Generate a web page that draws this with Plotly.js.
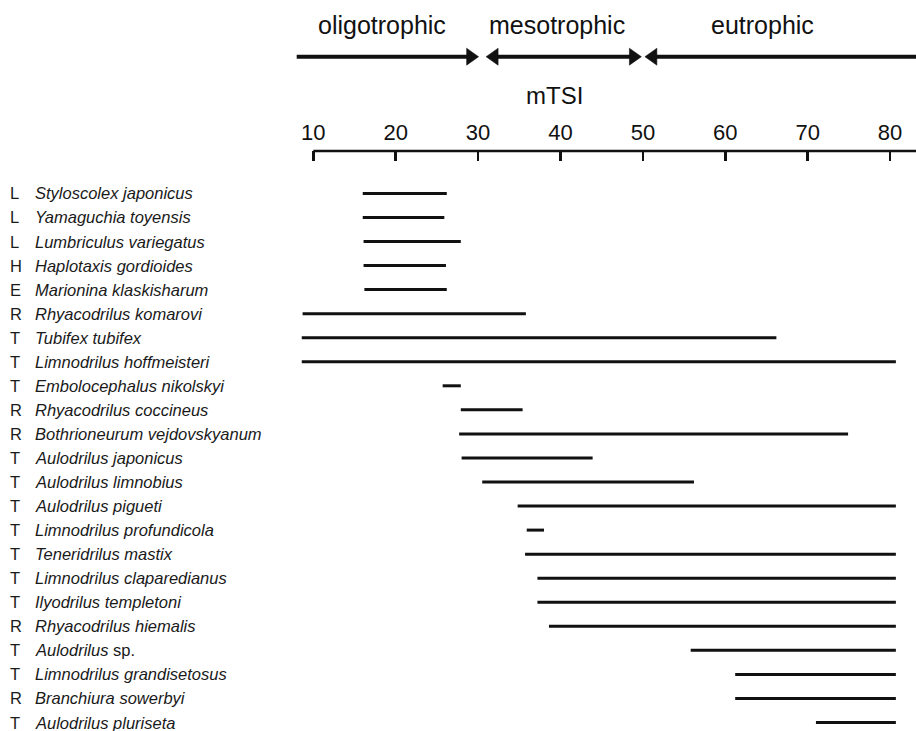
<!DOCTYPE html>
<html>
<head>
<meta charset="utf-8">
<script src="https://cdn.plot.ly/plotly-3.0.1.min.js"></script>
<style>html,body{margin:0;padding:0;background:#fff;}#chart{width:916px;height:731px;}</style>
</head>
<body>
<div id="chart"></div>
<script>
// ---------- data ----------
const groupCodes = ['L','L','L','H','E','R','T','T','T','R','R','T','T','T','T','T','T','T','R','T','T','R','T'];
const speciesNames = [
  'Styloscolex japonicus','Yamaguchia toyensis','Lumbriculus variegatus','Haplotaxis gordioides',
  'Marionina klaskisharum','Rhyacodrilus komarovi','Tubifex tubifex','Limnodrilus hoffmeisteri',
  'Embolocephalus nikolskyi','Rhyacodrilus coccineus','Bothrioneurum vejdovskyanum','Aulodrilus japonicus',
  'Aulodrilus limnobius','Aulodrilus pigueti','Limnodrilus profundicola','Teneridrilus mastix',
  'Limnodrilus claparedianus','Ilyodrilus templetoni','Rhyacodrilus hiemalis','Aulodrilus sp.',
  'Limnodrilus grandisetosus','Branchiura sowerbyi','Aulodrilus pluriseta'
];
const rangeMin = [16.0,16.0,16.1,16.1,16.2,8.7,8.6,8.6,25.7,27.9,27.7,28.0,30.5,34.8,35.9,35.7,37.2,37.2,38.6,55.8,61.2,61.2,71.0];
const rangeMax = [26.2,25.9,27.9,26.1,26.2,35.8,66.2,80.7,27.9,35.4,74.9,43.9,56.2,80.7,38.0,80.7,80.7,80.7,80.7,80.7,80.7,80.7,80.7];
const tickValues = [10,20,30,40,50,60,70,80];
const tickLabels = ['10','20','30','40','50','60','70','80'];
const trophicLabels = ['oligotrophic','mesotrophic','eutrophic'];
const trophicBounds = [30, 50];
const axisTitle = 'mTSI';

// ---------- layout geometry ----------
const W = 916, H = 731;
const TOP = 151;             // axis line (top of plot area)
const PXU = 8.24;            // pixels per mTSI unit
const X10 = 313.3;           // pixel of mTSI = 10
const ROW0 = 193.4, ROWH = 24.05;
const xr = [10 - X10 / PXU, 10 + (W - X10) / PXU];
const r0 = -(ROW0 - TOP) / ROWH;
const r1 = r0 + (H - TOP) / ROWH;
const py = px => (H - px) / (H - TOP);          // pixel y -> paper y
const dx = px => px / PXU;                      // pixel length -> data length
const xAt = px => 10 + (px - X10) / PXU;        // pixel x -> data x
const FONT = 'Liberation Sans, Arial, sans-serif';
const INK = '#111';

// bars
const bx = [], by = [];
speciesNames.forEach((n, i) => {
  bx.push(rangeMin[i], rangeMax[i], null);
  by.push(i, i, null);
});
const traces = [{
  type: 'scatter', mode: 'lines', x: bx, y: by,
  line: {color: INK, width: 3}, hoverinfo: 'skip', showlegend: false
}];

// annotations: row labels
const annotations = [];
speciesNames.forEach((n, i) => {
  annotations.push({
    xref: 'paper', yref: 'y', x: 0, y: i, xanchor: 'left', yanchor: 'middle',
    xshift: 8, text: groupCodes[i], showarrow: false,
    font: {family: FONT, size: 16.5, color: '#1a1a1a'}
  });
  const t = n.split(' ').map(w => w === 'sp.' ? w : '<i>' + w + '</i>').join(' ');
  annotations.push({
    xref: 'paper', yref: 'y', x: 0, y: i, xanchor: 'left', yanchor: 'middle',
    xshift: 33, text: t, showarrow: false,
    font: {family: FONT, size: 16.5, color: '#1a1a1a'}
  });
});
// header texts
const trophicCenters = [xAt(382), xAt(557), xAt(762.5)];
trophicLabels.forEach((t, i) => {
  annotations.push({
    xref: 'x', yref: 'paper', x: trophicCenters[i], y: py(25), xanchor: 'center', yanchor: 'middle',
    text: t, showarrow: false, font: {family: FONT, size: 25, color: INK}
  });
});
annotations.push({
  xref: 'x', yref: 'paper', x: xAt(554), y: py(96), xanchor: 'center', yanchor: 'middle',
  text: axisTitle, showarrow: false, font: {family: FONT, size: 24, color: INK}
});

// shapes: axis line, trophic arrows
const shapes = [];
shapes.push({type: 'line', xref: 'x', yref: 'paper', x0: 10, x1: xr[1], y0: 1, y1: 1,
  line: {color: INK, width: 2.4}});
const AY = py(56.7), HL = dx(12), HH = 8.5 / (H - TOP), AW = 4;
function head(tip, dir) { // dir=+1 right, -1 left
  const b = tip - dir * HL;
  shapes.push({type: 'path', xref: 'x', yref: 'paper',
    path: `M ${tip},${AY} L ${b},${AY + HH} L ${b},${AY - HH} Z`,
    fillcolor: INK, line: {color: INK, width: 0.5}});
}
function seg(a, b) {
  shapes.push({type: 'line', xref: 'x', yref: 'paper', x0: a, x1: b, y0: AY, y1: AY,
    line: {color: INK, width: AW}});
}
const oligoTip = trophicBounds[0] + dx(0.5);
const mesoL = trophicBounds[0] + dx(8.0);
const mesoR = trophicBounds[1] - dx(1.5);
const eutroL = trophicBounds[1] + dx(2.0);
seg(xAt(296.7), oligoTip - HL * 0.6); head(oligoTip, 1);
seg(mesoL + HL * 0.6, mesoR - HL * 0.6); head(mesoL, -1); head(mesoR, 1);
seg(eutroL + HL * 0.6, xr[1]); head(eutroL, -1);

const layout = {
  width: W, height: H,
  margin: {l: 0, r: 0, t: TOP, b: 0, pad: 0},
  paper_bgcolor: '#fff', plot_bgcolor: '#fff',
  showlegend: false,
  xaxis: {
    side: 'top', range: xr, showgrid: false, zeroline: false, showline: false,
    tickmode: 'array', tickvals: tickValues, ticktext: tickLabels,
    ticks: 'inside', ticklen: 10, tickwidth: 2.6, tickcolor: INK,
    ticklabelstandoff: 6,
    tickfont: {family: FONT, size: 22, color: INK}, fixedrange: true
  },
  yaxis: {
    range: [r1, r0], showgrid: false, zeroline: false, showline: false,
    showticklabels: false, ticks: '', fixedrange: true
  },
  annotations: annotations,
  shapes: shapes
};
Plotly.newPlot('chart', traces, layout, {displayModeBar: false, staticPlot: true});
</script>
</body>
</html>
